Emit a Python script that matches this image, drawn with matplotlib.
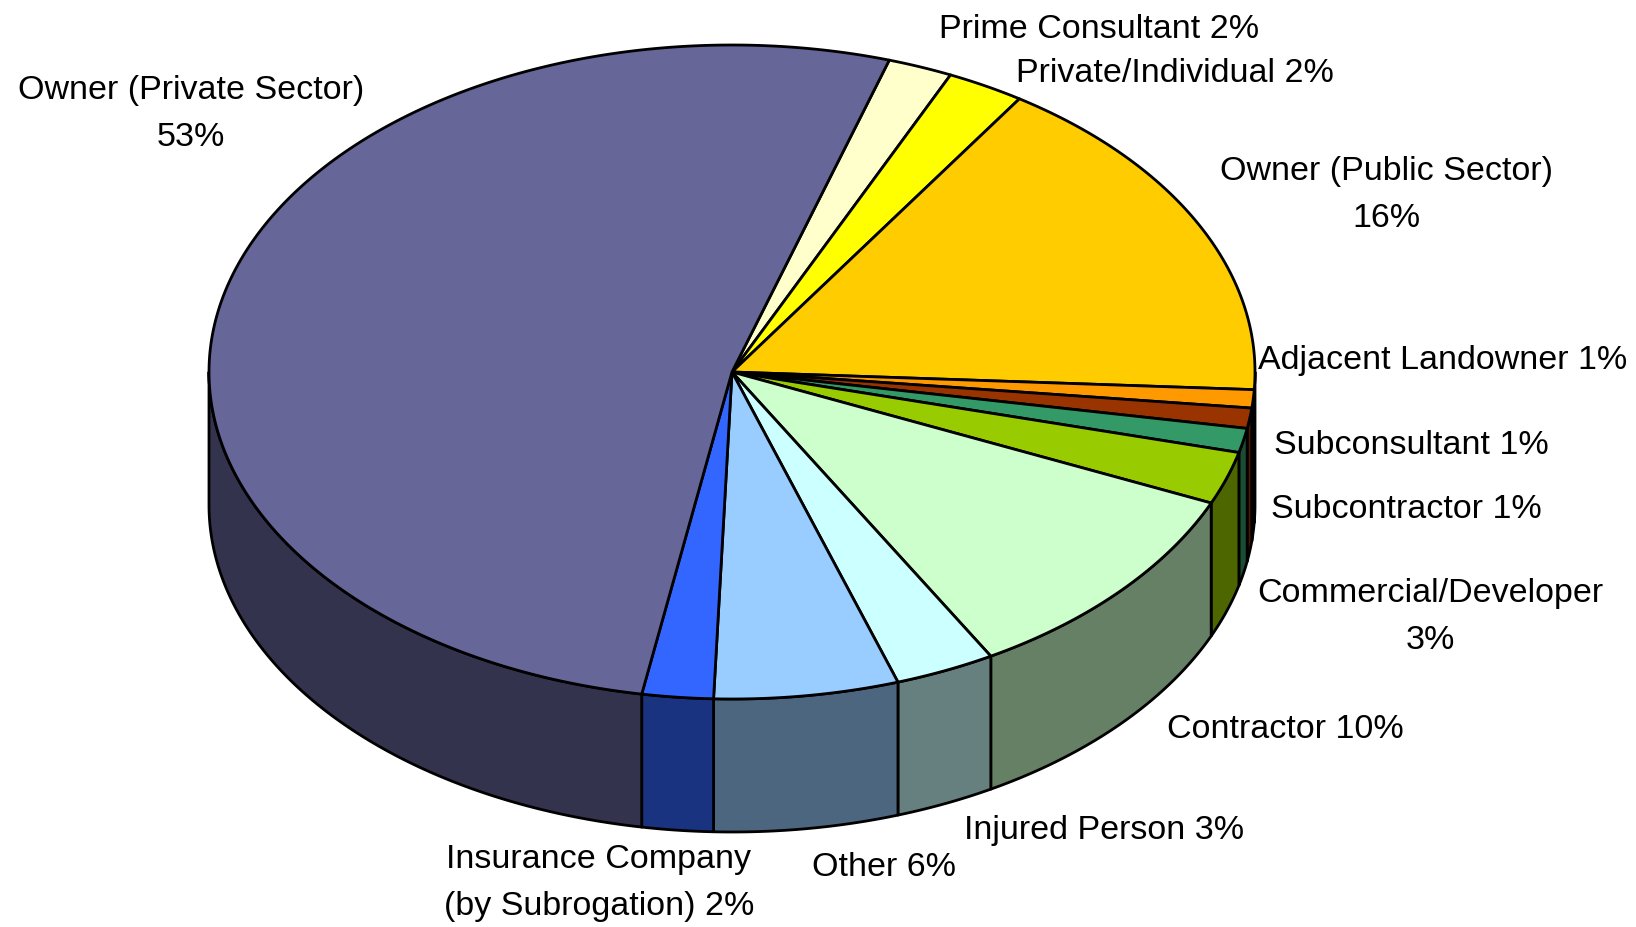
import matplotlib.pyplot as plt
import numpy as np
from matplotlib.colors import to_rgb
from matplotlib.patches import Polygon

# Slices in clockwise order, starting where "Prime Consultant" meets the
# big "Owner (Private Sector)" slice near the top of the pie
categories = [
    "Prime Consultant",
    "Private/Individual",
    "Owner (Public Sector)",
    "Adjacent Landowner",
    "Subconsultant",
    "Subcontractor",
    "Commercial/Developer",
    "Contractor",
    "Injured Person",
    "Other",
    "Insurance Company (by Subrogation)",
    "Owner (Private Sector)",
]
shares = [2.0, 2.4, 16.6, 0.9, 1.0, 1.2, 2.6, 10.2, 3.1, 5.7, 2.2, 52.1]
label_texts = [
    "Prime Consultant 2%",
    "Private/Individual 2%",
    "Owner (Public Sector)\n16%",
    "Adjacent Landowner 1%",
    "Subconsultant 1%",
    "Subcontractor 1%",
    "Commercial/Developer\n3%",
    "Contractor 10%",
    "Injured Person 3%",
    "Other 6%",
    "Insurance Company\n(by Subrogation) 2%",
    "Owner (Private Sector)\n53%",
]
colors = [
    "#FFFFCC",
    "#FFFF00",
    "#FFCC00",
    "#FF9900",
    "#993300",
    "#339966",
    "#99CC00",
    "#CCFFCC",
    "#CCFFFF",
    "#99CCFF",
    "#3366FF",
    "#666699",
]

# Layout of the fake 3D pie, in pixels of the output image
W, H = 1636, 927
CX, CY = 732, 372
RX, RY = 523, 327
DEPTH = 133
START = 17.5

# Where each label sits (centre of the text block)
label_pos = [
    (1099, 29),
    (1175, 73),
    (1386, 195),
    (1443, 360),
    (1411, 445),
    (1406, 510),
    (1430, 617),
    (1285, 730),
    (1104, 831),
    (884, 868),
    (599, 883),
    (191, 114),
]


def rim(a0, a1, dy=0.0):
    """Points on the pie rim between two angles (degrees, clockwise from top)."""
    n = max(2, int(abs(a1 - a0) * 2))
    t = np.radians(np.linspace(a0, a1, n))
    return np.column_stack((CX + RX * np.sin(t), CY - RY * np.cos(t) + dy))


def main():
    plt.rcParams["font.family"] = ["Liberation Sans", "DejaVu Sans"]

    fig = plt.figure(figsize=(W / 100, H / 100), dpi=100)
    ax = fig.add_axes([0, 0, 1, 1])
    ax.set_xlim(0, W)
    ax.set_ylim(H, 0)
    ax.axis("off")

    angles = START + 360.0 * np.concatenate(([0], np.cumsum(shares))) / sum(shares)

    # Outer walls first, only the front half (90..270 deg) can be seen
    for a0, a1, c in zip(angles[:-1], angles[1:], colors):
        lo, hi = max(a0, 90.0), min(a1, 270.0)
        if hi <= lo:
            continue
        pts = np.vstack((rim(lo, hi), rim(hi, lo, DEPTH)))
        dark = tuple(0.5 * v for v in to_rgb(c))
        ax.add_patch(
            Polygon(pts, closed=True, facecolor=dark, edgecolor="black",
                    linewidth=2.0, joinstyle="round")
        )

    # Top faces
    for a0, a1, c in zip(angles[:-1], angles[1:], colors):
        pts = np.vstack(([[CX, CY]], rim(a0, a1)))
        ax.add_patch(
            Polygon(pts, closed=True, facecolor=c, edgecolor="black",
                    linewidth=2.0, joinstyle="round")
        )

    for txt, (x, y) in zip(label_texts, label_pos):
        ax.text(x, y, txt, ha="center", va="center", fontsize=24.5,
                multialignment="center", linespacing=1.66)

    fig.savefig("out.png", dpi=100)


if __name__ == "__main__":
    main()
